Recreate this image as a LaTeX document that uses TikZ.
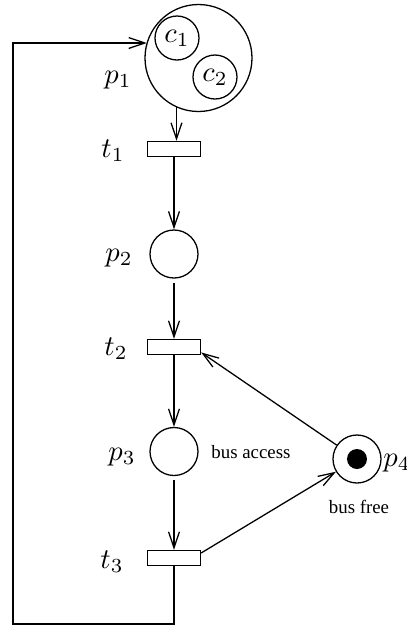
\documentclass[tikz,border=0pt]{standalone}
\usepackage{fontspec}
\newfontfamily\timesf{Liberation Serif}
\usetikzlibrary{arrows.meta}
\begin{document}
\begin{tikzpicture}[x=0.35pt,y=-0.35pt,line width=0.45pt,
  place/.style={draw,circle,inner sep=0pt,minimum size=16.8pt},
  big/.style={draw,circle,inner sep=0pt,minimum size=37.45pt},
  col/.style={draw,circle,inner sep=0pt,minimum size=15.4pt},
  trans/.style={draw,rectangle,inner sep=0pt,minimum width=18.55pt,minimum height=5.3pt},
  arr/.style={-{Straight Barb[length=5.6pt,width=3.8pt,line width=0.45pt]}},
  lbl/.style={inner sep=0pt},
  txt/.style={inner sep=0pt,font=\timesf\fontsize{6.6}{8}\selectfont}]
\useasboundingbox (0,0) rectangle (407,625);
% nodes
\node[big] (p1) at (198.5,58) {};
\node[col] (c1) at (177,38) {$c_1$};
\node[col] (c2) at (215,77) {$c_2$};
\node[trans] (t1) at (174,149) {};
\node[place] (p2) at (174,254) {};
\node[trans] (t2) at (174,347) {};
\node[place] (p3) at (174,451.5) {};
\node[trans] (t3) at (174,558) {};
\node[place] (p4) at (357,459) {};
\node[fill,circle,inner sep=0pt,minimum size=7pt] (tok) at (357,459) {};
% labels
\node[lbl] (lp1) at (118,80) {$p_1$};
\node[lbl] (lt1) at (113,151) {$t_1$};
\node[lbl] (lp2) at (119,258) {$p_2$};
\node[lbl] (lt2) at (116,349) {$t_2$};
\node[lbl] (lp3) at (122,457) {$p_3$};
\node[lbl] (lt3) at (112,562) {$t_3$};
\node[lbl] (lp4) at (397,463) {$p_4$};
\node[txt] (ba) at (251,452) {bus access};
\node[txt] (bf) at (359,507) {bus free};
% coordinates
\coordinate (bl) at (13,624);
\coordinate (tl) at (13,43);
% arcs
\draw[arr] (p1.-114.9) -- (p1.-114.9 |- t1.north);
\draw[arr] (t1.south) -- (p2.north);
\draw[arr,shorten <=1.5pt] (p2.south) -- (t2.north);
\draw[arr] (t2.south) -- (p3.north);
\draw[arr,shorten <=1.5pt] (p3.south) -- (t3.north);
\draw[arr] (p4) -- ([yshift=-1.9pt]t2.east);
\draw[arr] ([yshift=1.75pt]t3.east) -- (p4);
\draw[arr] (t3.south) |- (bl) -- (tl) -- (p1.163.7 |- tl);
\end{tikzpicture}
\end{document}
